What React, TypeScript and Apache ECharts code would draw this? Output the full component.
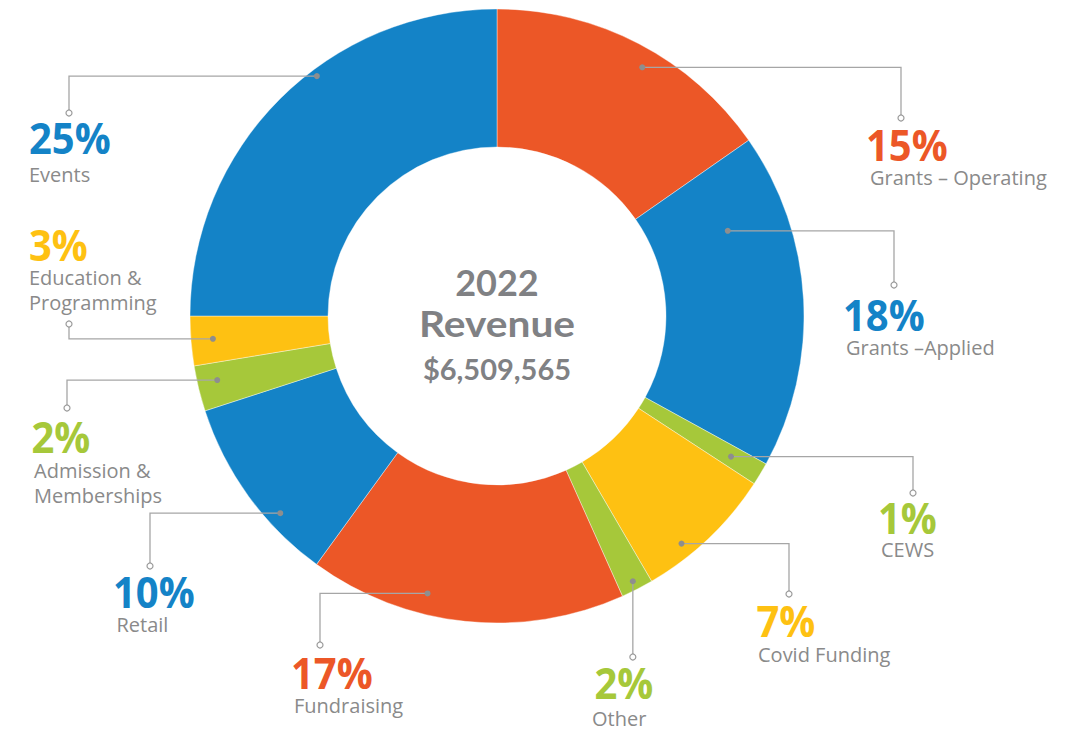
import React, { useEffect, useRef } from "react";
import * as echarts from "echarts";

// ---- data ----
const categories = [
  "Grants – Operating",
  "Grants –Applied",
  "CEWS",
  "Covid Funding",
  "Other",
  "Fundraising",
  "Retail",
  "Admission & Memberships",
  "Education & Programming",
  "Events",
];
const shares = [15.3, 17.7, 1.2, 7.4, 1.7, 16.7, 10.0, 2.4, 2.6, 25.0];
const nameLines = [
  ["Grants – Operating"],
  ["Grants –Applied"],
  ["CEWS"],
  ["Covid Funding"],
  ["Other"],
  ["Fundraising"],
  ["Retail"],
  ["Admission &", "Memberships"],
  ["Education &", "Programming"],
  ["Events"],
];
const titleYear = "2022";
const titleMain = "Revenue";
const totalRevenue = "$6,509,565";

// ---- styles / layout ----
const RED = "#EC5727";
const BLUE = "#1483C7";
const GREEN = "#A6C83A";
const YELLOW = "#FEC112";
const sliceColors = [RED, BLUE, GREEN, YELLOW, GREEN, RED, BLUE, GREEN, YELLOW, BLUE];
const CX = 497;
const CY = 316;
const R_IN = 169;
const R_OUT = 307;
const LINE_COLOR = "#a6a6a6";
const DOT_COLOR = "#8e8e8e";
const NAME_COLOR = "#8a8a8a";
const CENTER_COLOR = "#808184";
const PCT_SIZE = 43;
const PCT_SCALE_X = 0.93;
const NAME_SIZE = 20;
const NAME_LH = 24.5;

// f: position of anchor inside slice (fraction of slice span), r: anchor radius
// elbowX: x of vertical leg (null = straight down), endY: centre of end circle
const labelLayout = [
  { f: 0.55, r: 288, elbowX: 901, endY: 118, pctX: 866, pctBase: 160.7, nameX: 870, nameBase: 185.7 },
  { f: 0.23, r: 246, elbowX: 894, endY: 285, pctX: 843, pctBase: 330.7, nameX: 846, nameBase: 355.7 },
  { f: 0.51, r: 273, elbowX: 913, endY: 493, pctX: 878, pctBase: 534, nameX: 881, nameBase: 557.3 },
  { f: 0.67, r: 293, elbowX: 789, endY: 594, pctX: 756.5, pctBase: 636.7, nameX: 758, nameBase: 662.3 },
  { f: 0.51, r: 298, elbowX: null, endY: 657, pctX: 594.5, pctBase: 699, nameX: 592, nameBase: 726.7 },
  { f: 0.635, r: 286, elbowX: 320, endY: 645, pctX: 291, pctBase: 689.3, nameX: 294, nameBase: 713.3 },
  { f: 0.325, r: 293, elbowX: 150, endY: 566, pctX: 113, pctBase: 608.3, nameX: 116.5, nameBase: 632.7 },
  { f: 0.59, r: 287, elbowX: 67, endY: 408, pctX: 31.5, pctBase: 452.7, nameX: 34, nameBase: 478.7 },
  { f: 0.51, r: 285, elbowX: 69, endY: 324, pctX: 29, pctBase: 260.7, nameX: 29, nameBase: 285.7 },
  { f: 0.59, r: 300, elbowX: 69, endY: 113, pctX: 29, pctBase: 154.3, nameX: 29, nameBase: 182.7 },
];

const CENTRAL = 0.388; // distance of SVG 'central' baseline above alphabetic baseline (em)

function buildGraphics() {
  const total = shares.reduce((a, b) => a + b, 0);
  const els: any[] = [];
  let cum = 0;
  shares.forEach((v, i) => {
    const L = labelLayout[i];
    const angDeg = ((cum + L.f * v) / total) * 360;
    cum += v;
    const a = (angDeg * Math.PI) / 180;
    const dx = CX + L.r * Math.sin(a);
    const dy = CY - L.r * Math.cos(a);
    const ex = L.elbowX == null ? dx : L.elbowX;
    const cr = 3;
    const endEdge = L.endY > dy ? L.endY - cr : L.endY + cr;
    els.push({
      type: "polyline",
      z: 100,
      shape: { points: [[dx, dy], [ex, dy], [ex, endEdge]] },
      style: { stroke: LINE_COLOR, lineWidth: 1.3, fill: null },
    });
    els.push({
      type: "circle",
      z: 101,
      shape: { cx: dx, cy: dy, r: 3 },
      style: { fill: DOT_COLOR },
    });
    els.push({
      type: "circle",
      z: 101,
      shape: { cx: ex, cy: L.endY, r: cr },
      style: { fill: "#ffffff", stroke: "#9a9a9a", lineWidth: 1.2 },
    });
    els.push({
      type: "text",
      z: 102,
      x: L.pctX,
      y: L.pctBase - CENTRAL * PCT_SIZE,
      scaleX: PCT_SCALE_X,
      style: {
        text: Math.round(v) + "%",
        fill: sliceColors[i],
        font: `bold ${PCT_SIZE}px "Open Sans"`,
        align: "left",
        verticalAlign: "middle",
        textAlign: "left",
        textVerticalAlign: "middle",
      },
    });
    nameLines[i].forEach((line, k) => {
      els.push({
        type: "text",
        z: 102,
        x: L.nameX,
        y: L.nameBase + k * NAME_LH - CENTRAL * NAME_SIZE,
        style: {
          text: line,
          fill: NAME_COLOR,
          font: `normal ${NAME_SIZE}px "Open Sans"`,
          align: "left",
          verticalAlign: "middle",
          textAlign: "left",
          textVerticalAlign: "middle",
        },
      });
    });
  });
  const centerTexts = [
    { text: titleYear, size: 36, base: 296, sx: 1 },
    { text: titleMain, size: 36, base: 336.7, sx: 1.13 },
    { text: totalRevenue, size: 29, base: 380, sx: 1 },
  ];
  centerTexts.forEach((t) => {
    els.push({
      type: "text",
      z: 102,
      x: 497,
      y: t.base - CENTRAL * t.size,
      scaleX: t.sx,
      style: {
        text: t.text,
        fill: CENTER_COLOR,
        font: `bold ${t.size}px Lato`,
        align: "center",
        verticalAlign: "middle",
        textAlign: "center",
        textVerticalAlign: "middle",
      },
    });
  });
  return els;
}

export default function App() {
  const ref = useRef<HTMLDivElement>(null);
  useEffect(() => {
    if (!ref.current) return;
    const chart = echarts.init(ref.current, undefined, { renderer: "svg" });
    chart.setOption({
      animation: false,
      backgroundColor: "#ffffff",
      series: [
        {
          type: "pie",
          center: [CX, CY],
          radius: [R_IN, R_OUT],
          startAngle: 90,
          clockwise: true,
          silent: true,
          label: { show: false },
          labelLine: { show: false },
          itemStyle: { borderColor: "#ffffff", borderWidth: 0.4 },
          data: categories.map((name, i) => ({
            name,
            value: shares[i],
            itemStyle: { color: sliceColors[i] },
          })),
        },
      ],
      graphic: { elements: buildGraphics() },
    });
    return () => chart.dispose();
  }, []);
  return (
    <div
      ref={ref}
      style={{ position: "fixed", left: 0, top: 0, width: 1075, height: 733 }}
    />
  );
}
